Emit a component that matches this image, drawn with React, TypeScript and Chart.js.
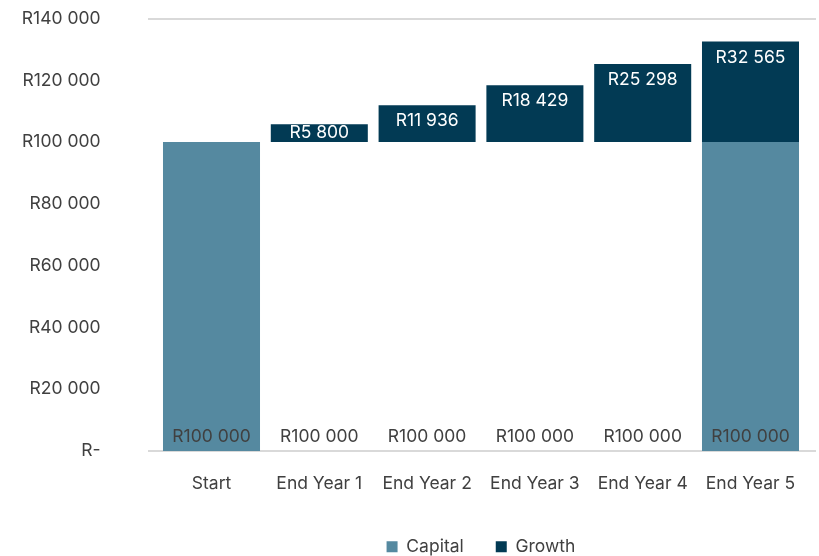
import React, { useEffect, useRef } from "react";
import { Chart, registerables } from "chart.js";

Chart.register(...registerables);

const categories = ["Start", "End Year 1", "End Year 2", "End Year 3", "End Year 4", "End Year 5"];
const capitalValues = [100000, 100000, 100000, 100000, 100000, 100000];
const growthValues: (number | null)[] = [null, 5800, 11936, 18429, 25298, 32565];
const capitalVisible = [true, false, false, false, false, true];
const yTicks = [0, 20000, 40000, 60000, 80000, 100000, 120000, 140000];

const FONT = "Inter";
const FS = 17.5;
const CAPITAL_COLOR = "#5589A0";
const GROWTH_COLOR = "#023A54";
const TEXT_COLOR = "#404040";
const LINE_COLOR = "#D9D9D9";

function fmt(v: number): string {
  if (v === 0) return "R-";
  const s = Math.round(v).toString().replace(/\B(?=(\d{3})+(?!\d))/g, " ");
  return "R" + s;
}

const linesPlugin = {
  id: "customLines",
  beforeDatasetsDraw(chart: any) {
    const { ctx, scales } = chart;
    const y = scales.y;
    const x0 = 148;
    const x1 = 816;
    ctx.save();
    ctx.strokeStyle = LINE_COLOR;
    ctx.lineWidth = 2;
    [yTicks[yTicks.length - 1], 0].forEach((v) => {
      const py = Math.round(y.getPixelForValue(v));
      ctx.beginPath();
      ctx.moveTo(x0, py);
      ctx.lineTo(x1, py);
      ctx.stroke();
    });
    ctx.restore();
  },
};

const labelsPlugin = {
  id: "customLabels",
  afterDatasetsDraw(chart: any) {
    const { ctx } = chart;
    ctx.save();
    ctx.font = `${FS}px ${FONT}`;
    ctx.textAlign = "center";
    ctx.textBaseline = "middle";
    const capMeta = chart.getDatasetMeta(0);
    capMeta.data.forEach((bar: any, i: number) => {
      const v = capitalValues[i];
      if (v == null) return;
      ctx.fillStyle = TEXT_COLOR;
      ctx.fillText(fmt(v), bar.x, bar.base - 14);
    });
    const grMeta = chart.getDatasetMeta(1);
    grMeta.data.forEach((bar: any, i: number) => {
      const v = growthValues[i];
      if (v == null || v === 0) return;
      const top = Math.min(bar.y, bar.base);
      const bottom = Math.max(bar.y, bar.base);
      const cy = Math.min(top + 16, (top + bottom) / 2);
      ctx.fillStyle = "#FFFFFF";
      ctx.fillText(fmt(v), bar.x, cy);
    });
    ctx.restore();
  },
};

export default function App() {
  const ref = useRef<HTMLCanvasElement | null>(null);
  useEffect(() => {
    document.body.style.margin = "0";
    const canvas = ref.current!;
    const chart = new Chart(canvas, {
      type: "bar",
      data: {
        labels: categories,
        datasets: [
          {
            label: "Capital",
            data: capitalValues,
            backgroundColor: capitalVisible.map((v) => (v ? CAPITAL_COLOR : "rgba(0,0,0,0)")),
            barPercentage: 0.9,
            categoryPercentage: 1.0,
          },
          {
            label: "Growth",
            data: growthValues,
            backgroundColor: GROWTH_COLOR,
            barPercentage: 0.9,
            categoryPercentage: 1.0,
          },
        ],
      },
      options: {
        responsive: false,
        animation: false,
        layout: { padding: { left: 0, right: 14.6, top: 17, bottom: 0 } },
        plugins: {
          tooltip: { enabled: false },
          legend: {
            position: "bottom",
            fullSize: false,
            maxHeight: 50,
            labels: {
              color: TEXT_COLOR,
              font: { family: FONT, size: FS },
              boxWidth: 11,
              boxHeight: 11,
              padding: 32,
              generateLabels: () => [
                { text: "Capital", fillStyle: CAPITAL_COLOR, strokeStyle: CAPITAL_COLOR, lineWidth: 0, datasetIndex: 0, fontColor: TEXT_COLOR },
                { text: "Growth", fillStyle: GROWTH_COLOR, strokeStyle: GROWTH_COLOR, lineWidth: 0, datasetIndex: 1, fontColor: TEXT_COLOR },
              ],
            },
          },
        },
        scales: {
          x: {
            stacked: true,
            grid: { display: false, drawTicks: true, tickLength: 16 },
            border: { display: false },
            ticks: { color: TEXT_COLOR, font: { family: FONT, size: FS }, padding: 6, maxRotation: 0 },
            afterFit: (scale: any) => {
              scale.height = 55;
            },
          },
          y: {
            stacked: true,
            min: 0,
            max: 140000,
            grid: { display: false, drawTicks: true, tickLength: 49 },
            border: { display: false },
            afterBuildTicks: (scale: any) => {
              scale.ticks = yTicks.map((v) => ({ value: v }));
            },
            ticks: {
              color: TEXT_COLOR,
              font: { family: FONT, size: FS },
              padding: 8,
              callback: (v: any) => fmt(Number(v)),
            },
            afterFit: (scale: any) => {
              scale.width = 157.6;
            },
          },
        },
      },
      plugins: [linesPlugin, labelsPlugin],
    });
    return () => chart.destroy();
  }, []);
  return <canvas ref={ref} width={819} height={556} style={{ display: "block" }} />;
}
